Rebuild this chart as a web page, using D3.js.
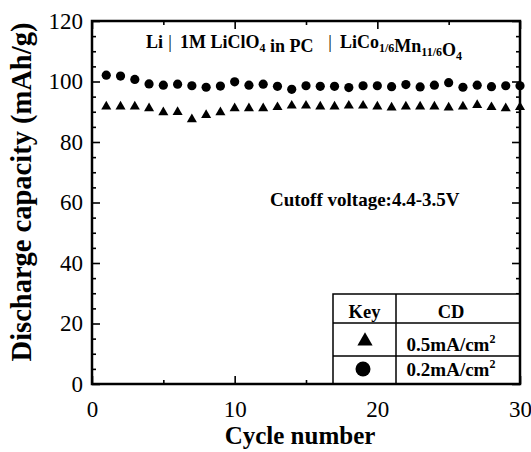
<!DOCTYPE html>
<html lang="en">
<head>
<meta charset="utf-8">
<title>Discharge capacity vs cycle</title>
<script src="https://d3js.org/d3.v7.min.js"></script>
<style>
  body { margin: 0; background: #fff; }
  svg text { font-family: "Liberation Serif", "Times New Roman", serif; fill: #000; }
</style>
</head>
<body>
<script>
const w = 531, h = 452;

// data
const cycles = d3.range(1, 31);
const cap05 = [91.7, 91.7, 91.7, 91.1, 89.8, 89.9, 87.5, 88.9, 89.8, 91.1,
               91.1, 91.1, 91.5, 92.0, 92.0, 91.7, 91.7, 92.0, 92.0, 91.7,
               91.4, 91.7, 91.7, 91.7, 91.4, 91.7, 92.2, 91.5, 91.1, 91.5];
const cap02 = [102.1, 101.8, 100.7, 99.2, 98.8, 99.1, 98.6, 98.1, 98.5, 99.9,
               98.8, 99.1, 98.4, 97.4, 98.6, 98.4, 98.4, 98.0, 98.6, 98.6,
               98.3, 99.0, 98.2, 98.8, 99.6, 98.1, 98.8, 98.3, 98.6, 98.6];
const xMajor = [0, 10, 20, 30];
const xMinor = [5, 15, 25];
const yMajor = [0, 20, 40, 60, 80, 100, 120];
const yMinor = [5, 10, 15, 25, 30, 35, 45, 50, 55, 65, 70, 75, 85, 90, 95, 105, 110, 115];

const pLeft = 92, pRight = 520, pTop = 21, pBottom = 384;
const serif = "'Liberation Serif', 'Times New Roman', serif";

const x = d3.scaleLinear().domain([0, 30]).range([pLeft, pRight]);
const y = d3.scaleLinear().domain([0, 120]).range([pBottom, pTop]);

const svg = d3.select("body").append("svg")
  .attr("width", w).attr("height", h);

// axes, ticks pointing inward
function addAxis(axis, tx, ty, vals, size, labels) {
  const g = svg.append("g")
    .attr("transform", "translate(" + tx + "," + ty + ")")
    .call(axis.tickValues(vals).tickSize(-size)
      .tickFormat(labels ? d3.format("d") : ""));
  g.attr("font-family", null).attr("font-size", null);
  g.select(".domain").remove();
  g.selectAll("line").attr("stroke", "#000").attr("stroke-width", 1.6);
  g.selectAll("text").style("font-family", serif).style("font-size", "23px");
  return g;
}

addAxis(d3.axisBottom(x).tickPadding(17), 0, pBottom, xMajor, 8, true);
addAxis(d3.axisBottom(x), 0, pBottom, xMinor, 4, false);
addAxis(d3.axisTop(x), 0, pTop, xMajor, 8, false);
addAxis(d3.axisTop(x), 0, pTop, xMinor, 4, false);
addAxis(d3.axisLeft(y).tickPadding(9), pLeft, 0, yMajor, 8, true);
addAxis(d3.axisLeft(y), pLeft, 0, yMinor, 4, false);
addAxis(d3.axisRight(y), pRight, 0, yMajor, 8, false);
addAxis(d3.axisRight(y), pRight, 0, yMinor, 4, false);

// legend table
const lg = svg.append("g");
const lgLeft = 333, lgMid = 396, lgTop = 294, row1 = 323, row2 = 356;
lg.append("rect").attr("x", lgLeft).attr("y", lgTop)
  .attr("width", pRight - lgLeft).attr("height", pBottom - lgTop)
  .attr("fill", "#fff").attr("stroke", "#000").attr("stroke-width", 1.5);
lg.append("line").attr("x1", lgMid).attr("x2", lgMid).attr("y1", lgTop).attr("y2", pBottom)
  .attr("stroke", "#000").attr("stroke-width", 1.5);
[row1, row2].forEach(r => lg.append("line").attr("x1", lgLeft).attr("x2", pRight)
  .attr("y1", r).attr("y2", r).attr("stroke", "#000").attr("stroke-width", 1.5));

lg.append("text").attr("x", 364.5).attr("y", 318).attr("text-anchor", "middle")
  .attr("font-size", 18.5).attr("font-weight", "bold").text("Key");
lg.append("text").attr("x", 451).attr("y", 318).attr("text-anchor", "middle")
  .attr("font-size", 18.5).attr("font-weight", "bold").text("CD");

const cdLabels = ["0.5mA/cm", "0.2mA/cm"];
[350.5, 376].forEach((by, i) => {
  const t = lg.append("text").attr("x", 451).attr("y", by).attr("text-anchor", "middle")
    .attr("font-size", 19).attr("font-weight", "bold");
  t.append("tspan").text(cdLabels[i]);
  t.append("tspan").attr("font-size", 12).attr("dy", -8).text("2");
});

lg.append("path").attr("d", d3.symbol(d3.symbolTriangle, 100)())
  .attr("transform", "translate(365,341)").attr("fill", "#000");
lg.append("circle").attr("cx", 363).attr("cy", 369).attr("r", 7.5).attr("fill", "#000");

// data points
svg.append("g").selectAll("path")
  .data(cycles)
  .enter().append("path")
  .attr("d", d3.symbol(d3.symbolTriangle, 44)())
  .attr("transform", (d, i) => "translate(" + x(d) + "," + y(cap05[i]) + ")")
  .attr("fill", "#000");

svg.append("g").selectAll("circle")
  .data(cycles)
  .enter().append("circle")
  .attr("cx", d => x(d))
  .attr("cy", (d, i) => y(cap02[i]))
  .attr("r", 4.6)
  .attr("fill", "#000");

// frame
svg.append("rect").attr("x", pLeft).attr("y", pTop)
  .attr("width", pRight - pLeft).attr("height", pBottom - pTop)
  .attr("fill", "none").attr("stroke", "#000").attr("stroke-width", 2.5);

// cell label at top; [text, isSubscript]
const title = svg.append("g").attr("font-size", 18);
function piece(px, parts) {
  const t = title.append("text").attr("x", px).attr("y", 48).attr("font-weight", "bold");
  parts.forEach(p => {
    if (p[1]) {
      t.append("tspan").attr("font-size", 12).attr("dy", 4).text(p[0]);
      t.append("tspan").attr("dy", -4).text("");
    } else {
      t.append("tspan").text(p[0]);
    }
  });
}
piece(146, [["Li", 0]]);
title.append("text").attr("x", 170).attr("y", 48).attr("text-anchor", "middle").text("|");
piece(180, [["1M LiClO", 0], ["4", 1], [" in PC", 0]]);
title.append("text").attr("x", 330).attr("y", 48).attr("text-anchor", "middle").text("|");
piece(340, [["LiCo", 0], ["1/6", 1], ["Mn", 0], ["11/6", 1], ["O", 0], ["4", 1]]);

svg.append("text").attr("x", 270).attr("y", 206)
  .attr("font-size", 19).attr("font-weight", "bold")
  .text("Cutoff voltage:4.4-3.5V");

// axis titles
svg.append("text").attr("x", (pLeft + pRight) / 2 - 6).attr("y", 444)
  .attr("text-anchor", "middle").attr("font-size", 25).attr("font-weight", "bold")
  .text("Cycle number");
svg.append("text")
  .attr("transform", "translate(31,192) rotate(-90)")
  .attr("text-anchor", "middle").attr("font-size", 28.5).attr("font-weight", "bold")
  .text("Discharge capacity (mAh/g)");
</script>
</body>
</html>
